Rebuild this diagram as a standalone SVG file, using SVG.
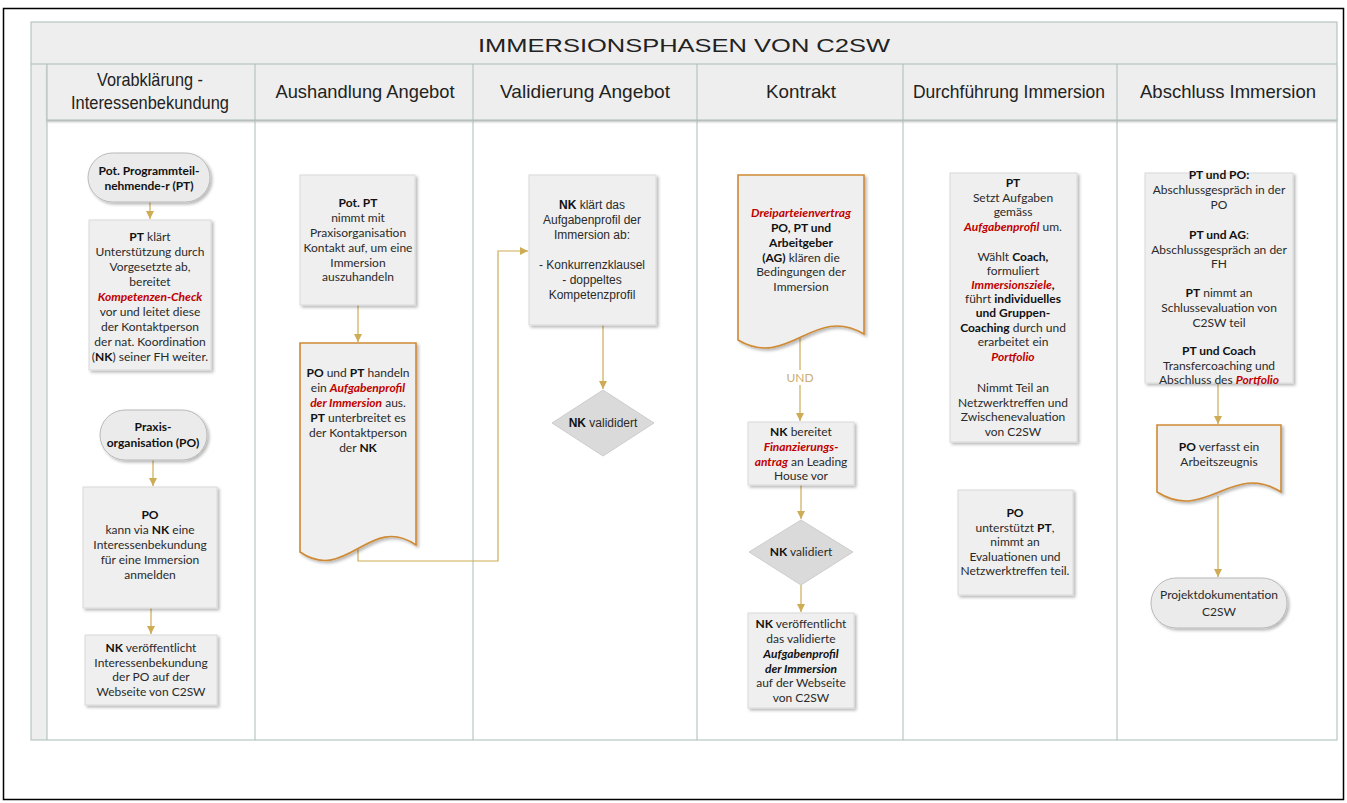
<svg xmlns="http://www.w3.org/2000/svg" width="1347" height="803" viewBox="0 0 1347 803">
<style>
.band{fill:#eeeeee}
.ln{stroke:#a9bcb7;stroke-width:1;fill:none}
.node{fill:#efefef;stroke:#d9d9d9;stroke-width:1;filter:url(#sh)}
.pill{fill:#ebebeb;stroke:#b9b9b9;stroke-width:1;filter:url(#sh)}
.doc{fill:#efefef;stroke:#cf8a34;stroke-width:1.6;filter:url(#sh)}
.dia{fill:#dadada;stroke:#cdcdcd;stroke-width:1}
.conn{stroke:#cdac55;stroke-width:1.2;fill:none;marker-end:url(#arr)}
.t{font-family:Lato,"Noto Sans",sans-serif;font-size:12px;fill:#2a2a2a;text-anchor:middle}
.a{font-family:"Liberation Sans",Arial,sans-serif;font-size:12px;fill:#2a2a2a;text-anchor:middle}
.b{font-weight:bold;fill:#111}
.r{font-weight:bold;font-style:italic;fill:#c00000}
.h{font-family:"Liberation Sans",Arial,sans-serif;font-size:19px;fill:#222;text-anchor:middle}
.und{font-family:Lato,"Noto Sans",sans-serif;font-size:12px;fill:#c9ad72;text-anchor:middle}
</style>
<defs>
<filter id="sh" x="-10%" y="-10%" width="130%" height="130%">
<feDropShadow dx="2" dy="2" stdDeviation="1.5" flood-color="#000" flood-opacity="0.28"/>
</filter>
<filter id="hs" x="-5%" y="-50%" width="110%" height="300%">
<feDropShadow dx="0" dy="2" stdDeviation="1.2" flood-color="#000" flood-opacity="0.25"/>
</filter>
<marker id="arr" markerWidth="10" markerHeight="10" refX="8" refY="5" orient="auto" markerUnits="userSpaceOnUse">
<path d="M0,1 L8,5 L0,9 Z" fill="#cdac55"/>
</marker>
</defs>
<rect x="0" y="0" width="1347" height="803" fill="#fff"/>
<rect x="3.5" y="8.5" width="1340" height="791" fill="none" stroke="#000" stroke-width="1.5"/>

<g id="pool">
<rect x="31" y="22" width="1306" height="718" fill="#fff"/>
<rect class="band" x="31" y="22" width="1306" height="42"/>
<rect class="band" x="31" y="64" width="16" height="676"/>
<rect class="band" x="47" y="64" width="1290" height="56" filter="url(#hs)"/>
<rect class="ln" x="31" y="22" width="1306" height="718"/>
<path class="ln" d="M31,64 H1337 M47,120 H1337 M47,64 V740 M255,64 V740 M473,64 V740 M697,64 V740 M903,64 V740 M1117,64 V740"/>
<text class="h" x="684" y="52" font-size="29" textLength="412" lengthAdjust="spacingAndGlyphs">IMMERSIONSPHASEN VON C2SW</text>
<text class="h" x="150" y="86" textLength="106" lengthAdjust="spacingAndGlyphs">Vorabklärung -</text>
<text class="h" x="150" y="109" textLength="158" lengthAdjust="spacingAndGlyphs">Interessenbekundung</text>
<text class="h" x="365" y="98" textLength="179" lengthAdjust="spacingAndGlyphs">Aushandlung Angebot</text>
<text class="h" x="585" y="98" textLength="170" lengthAdjust="spacingAndGlyphs">Validierung Angebot</text>
<text class="h" x="801" y="98" textLength="70" lengthAdjust="spacingAndGlyphs">Kontrakt</text>
<text class="h" x="1009" y="98" textLength="192" lengthAdjust="spacingAndGlyphs">Durchführung Immersion</text>
<text class="h" x="1228" y="98" font-family="Lato, sans-serif" textLength="176" lengthAdjust="spacingAndGlyphs" fill="#333">Abschluss Immersion</text>
</g>

<g id="connectors">
<path class="conn" d="M150,202 V219"/>
<path class="conn" d="M153,460 V486"/>
<path class="conn" d="M151,608 V634"/>
<path class="conn" d="M358,305 V342"/>
<path class="conn" d="M358,548 V561 H498 V251 H528"/>
<path class="conn" d="M603,325 V389"/>
<path class="conn" d="M800,338 V421"/>
<path class="conn" d="M801,485 V519"/>
<path class="conn" d="M801,585 V612"/>
<path class="conn" d="M1218,383 V424"/>
<path class="conn" d="M1218,496 V577"/>
<rect x="786" y="370" width="28" height="15" fill="#fff"/>
<text class="und" x="800" y="382">UND</text>
</g>

<g id="n-pt-start">
<rect class="pill" x="88" y="153" width="122" height="49" rx="24.5"/>
<text class="t b" x="149" y="175">Pot. Programmteil-</text>
<text class="t b" x="149" y="190">nehmende-r (PT)</text>
</g>
<g id="n-pt-check">
<rect class="node" x="89" y="220" width="122" height="150"/>
<text class="t" x="150" y="241"><tspan class="b">PT</tspan> klärt</text>
<text class="t" x="150" y="256">Unterstützung durch</text>
<text class="t" x="150" y="271">Vorgesetzte ab,</text>
<text class="t" x="150" y="286">bereitet</text>
<text class="t r" x="150" y="301">Kompetenzen-Check</text>
<text class="t" x="150" y="316">vor und leitet diese</text>
<text class="t" x="150" y="331">der Kontaktperson</text>
<text class="t" x="150" y="346">der nat. Koordination</text>
<text class="t" x="150" y="361">(<tspan class="b">NK</tspan>) seiner FH weiter.</text>
</g>
<g id="n-po-start">
<rect class="pill" x="100" y="410" width="107" height="50" rx="25"/>
<text class="t b" x="153" y="431">Praxis-</text>
<text class="t b" x="153" y="447">organisation (PO)</text>
</g>
<g id="n-po-interest">
<rect class="node" x="83" y="487" width="134" height="121"/>
<text class="t b" x="150" y="519">PO</text>
<text class="t" x="150" y="534">kann via <tspan class="b">NK</tspan> eine</text>
<text class="t" x="150" y="549">Interessenbekundung</text>
<text class="t" x="150" y="564">für eine Immersion</text>
<text class="t" x="150" y="579">anmelden</text>
</g>
<g id="n-nk-publish1">
<rect class="node" x="85" y="635" width="132" height="70"/>
<text class="t" x="151" y="652"><tspan class="b">NK</tspan> veröffentlicht</text>
<text class="t" x="151" y="667">Interessenbekundung</text>
<text class="t" x="151" y="681">der PO auf der</text>
<text class="t" x="151" y="696">Webseite von C2SW</text>
</g>

<g id="n-pot-pt">
<rect class="node" x="300" y="175" width="115" height="130"/>
<text class="t b" x="358" y="207">Pot. PT</text>
<text class="t" x="358" y="222">nimmt mit</text>
<text class="t" x="358" y="237">Praxisorganisation</text>
<text class="t" x="358" y="252">Kontakt auf, um eine</text>
<text class="t" x="358" y="267">Immersion</text>
<text class="t" x="358" y="281">auszuhandeln</text>
</g>
<g id="n-aufgabenprofil">
<path class="doc" d="M300,343 H416 V545 C369.6,513 346.4,584 300,552 Z"/>
<text class="t" x="358" y="377"><tspan class="b">PO</tspan> und <tspan class="b">PT</tspan> handeln</text>
<text class="t" x="358" y="392">ein <tspan class="r">Aufgabenprofil</tspan></text>
<text class="t" x="358" y="407"><tspan class="r">der Immersion</tspan> aus.</text>
<text class="t" x="358" y="422"><tspan class="b">PT</tspan> unterbreitet es</text>
<text class="t" x="358" y="437">der Kontaktperson</text>
<text class="t" x="358" y="452">der <tspan class="b">NK</tspan></text>
</g>

<g id="n-nk-klaert">
<rect class="node" x="529" y="175" width="127" height="150"/>
<text class="a" x="592" y="209"><tspan class="b">NK</tspan> klärt das</text>
<text class="a" x="592" y="224">Aufgabenprofil der</text>
<text class="a" x="592" y="239">Immersion ab:</text>
<text class="a" x="592" y="269">- Konkurrenzklausel</text>
<text class="a" x="592" y="284">- doppeltes</text>
<text class="a" x="592" y="299">Kompetenzprofil</text>
</g>
<g id="n-nk-valididert">
<path class="dia" d="M603,390 L654,423 L603,456 L552,423 Z"/>
<text class="a" x="603" y="427"><tspan class="b">NK</tspan> valididert</text>
</g>

<g id="n-dreipartei">
<path class="doc" d="M738,175 H864 V334 C813.6,304 788.4,370 738,340 Z"/>
<text class="t r" x="801" y="217">Dreiparteienvertrag</text>
<text class="t b" x="801" y="232">PO, PT und</text>
<text class="t b" x="801" y="247">Arbeitgeber</text>
<text class="t" x="801" y="262"><tspan class="b">(AG)</tspan>  klären die</text>
<text class="t" x="801" y="276">Bedingungen der</text>
<text class="t" x="801" y="291">Immersion</text>
</g>
<g id="n-nk-finanz">
<rect class="node" x="748" y="422" width="106" height="63"/>
<text class="t" x="801" y="436"><tspan class="b">NK</tspan> bereitet</text>
<text class="t r" x="801" y="451">Finanzierungs-</text>
<text class="t" x="801" y="466"><tspan class="r">antrag</tspan> an Leading</text>
<text class="t" x="801" y="480">House vor</text>
</g>
<g id="n-nk-validiert">
<path class="dia" d="M801,520 L853,552 L801,585 L749,552 Z"/>
<text class="t" x="801" y="556"><tspan class="b">NK</tspan> validiert</text>
</g>
<g id="n-nk-publish2">
<rect class="node" x="748" y="613" width="106" height="95"/>
<text class="t" x="801" y="628"><tspan class="b">NK</tspan> veröffentlicht</text>
<text class="t" x="801" y="643">das validierte</text>
<text class="t b" x="801" y="658" font-style="italic">Aufgabenprofil</text>
<text class="t b" x="801" y="673" font-style="italic">der Immersion</text>
<text class="t" x="801" y="687">auf der Webseite</text>
<text class="t" x="801" y="702">von C2SW</text>
</g>

<g id="n-pt-durch">
<rect class="node" x="950" y="173" width="127" height="269"/>
<text class="t b" x="1013" y="187">PT</text>
<text class="t" x="1013" y="202">Setzt Aufgaben</text>
<text class="t" x="1013" y="216">gemäss</text>
<text class="t" x="1013" y="231"><tspan class="r">Aufgabenprofil</tspan> um.</text>
<text class="t" x="1013" y="261">Wählt <tspan class="b">Coach,</tspan></text>
<text class="t" x="1013" y="275">formuliert</text>
<text class="t" x="1013" y="289"><tspan class="r">Immersionsziele</tspan><tspan class="b">,</tspan></text>
<text class="t" x="1013" y="303">führt <tspan class="b">individuelles</tspan></text>
<text class="t b" x="1013" y="317">und Gruppen-</text>
<text class="t" x="1013" y="332"><tspan class="b">Coaching</tspan> durch und</text>
<text class="t" x="1013" y="346">erarbeitet ein</text>
<text class="t r" x="1013" y="361">Portfolio</text>
<text class="t" x="1013" y="392">Nimmt Teil an</text>
<text class="t" x="1013" y="407">Netzwerktreffen und</text>
<text class="t" x="1013" y="421">Zwischenevaluation</text>
<text class="t" x="1013" y="436">von C2SW</text>
</g>
<g id="n-po-support">
<rect class="node" x="958" y="490" width="115" height="105"/>
<text class="t b" x="1015" y="517">PO</text>
<text class="t" x="1015" y="532">unterstützt <tspan class="b">PT</tspan>,</text>
<text class="t" x="1015" y="546">nimmt an</text>
<text class="t" x="1015" y="561">Evaluationen und</text>
<text class="t" x="1015" y="575">Netzwerktreffen teil.</text>
</g>

<g id="n-abschluss">
<rect class="node" x="1145" y="173" width="148" height="210"/>
<text class="t b" x="1219" y="179">PT und PO:</text>
<text class="t" x="1219" y="194">Abschlussgespräch in der</text>
<text class="t" x="1219" y="209">PO</text>
<text class="t" x="1219" y="239"><tspan class="b">PT und AG</tspan>:</text>
<text class="t" x="1219" y="254">Abschlussgespräch an der</text>
<text class="t" x="1219" y="268">FH</text>
<text class="t" x="1219" y="297"><tspan class="b">PT</tspan> nimmt an</text>
<text class="t" x="1219" y="312">Schlussevaluation von</text>
<text class="t" x="1219" y="327">C2SW teil</text>
<text class="t b" x="1219" y="355">PT und Coach</text>
<text class="t" x="1219" y="370">Transfercoaching und</text>
<text class="t" x="1219" y="384">Abschluss des <tspan class="r">Portfolio</tspan></text>
</g>
<g id="n-zeugnis">
<path class="doc" d="M1157,425 H1281 V492 C1231.4,461 1206.6,523 1157,492 Z"/>
<text class="t" x="1219" y="451"><tspan class="b">PO</tspan> verfasst ein</text>
<text class="t" x="1219" y="466">Arbeitszeugnis</text>
</g>
<g id="n-projektdoku">
<rect class="pill" x="1151" y="578" width="136" height="50" rx="25"/>
<text class="t" x="1219" y="599">Projektdokumentation</text>
<text class="t" x="1219" y="616">C2SW</text>
</g>
</svg>
